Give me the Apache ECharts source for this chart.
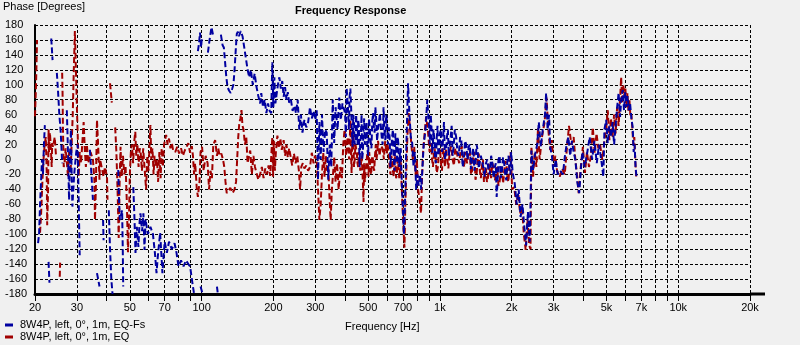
<!DOCTYPE html>
<html><head><meta charset="utf-8">
<script src="https://cdn.jsdelivr.net/npm/echarts@6/dist/echarts.min.js"></script>
<style>html,body{margin:0;padding:0;background:#f0f0f0}#c{width:800px;height:345px}</style>
</head><body><div id="c"></div>
<script>
// Frequency grid (Hz) and labelled frequencies
const gridFreqs = [20,30,40,50,60,70,80,90,100,200,300,400,500,600,700,800,900,1000,2000,3000,4000,5000,6000,7000,8000,9000,10000,20000];
const labelFreqs = [20,30,50,70,100,200,300,500,700,1000,2000,3000,5000,7000,10000,20000];
const freqMin = 20, freqMax = 20000;
const phaseMin = -180, phaseMax = 180, phaseStep = 20;
const seriesNames = ['8W4P, left, 0°, 1m, EQ-Fs', '8W4P, left, 0°, 1m, EQ'];

// [frequency Hz, phase deg]; null = break (phase wrap)
const eqPoints = [
[20.0,58],[20.2,100],[20.4,160],null,
[21.0,-98],[21.2,-75],[21.5,-27],[21.8,9],[22.0,22],[22.2,30],[22.4,-18],[22.5,-88],[22.7,-40],[22.8,40],[22.9,10],[23.1,36],[23.3,17],[23.5,-10],[23.6,22],[23.8,17],[24.2,30],[24.5,5],null,
[25.4,-157],[25.5,-138],null,
[26.0,116],[26.1,90],[26.2,40],[26.4,-10],[26.6,-5],[26.9,15],[27.2,17],[27.5,-23],[27.8,10],[28.2,-18],[28.5,-20],[28.8,60],[29.1,120],[29.4,172],[29.7,120],[30.0,66],[30.3,20],[30.5,-23],[30.8,10],[31.2,-5],[31.7,-5],[32.0,50],[32.4,10],[32.7,-10],[33.0,20],[33.5,-5],[34.2,10],[35.0,0],[35.5,-27],[35.7,-81],[36.0,-40],[36.4,53],[36.8,20],[37.3,-27],[37.5,0],[38.2,0],[38.8,-23],[39.3,-10],[40.1,-23],[40.3,-54],null,
[41.3,102],[42.0,76],null,
[43.4,43],[43.9,10],[44.4,-40],[44.9,-105],[45.3,-30],[45.7,17],[46.2,-23],[46.8,5],[47.4,-20],[48.0,-10],[48.6,-60],[49.1,-124],[49.5,-90],[50.0,-20],[50.5,10],[51.0,20],[51.6,-5],[52.2,25],[52.7,37],[53.2,5],[53.8,20],[54.4,-10],[55.0,15],[55.5,10],[56.2,-15],[56.9,15],[57.6,-10],[58.5,-40],[59.2,5],[59.9,-15],[60.5,20],[61.0,46],[61.5,0],[62.2,15],[62.9,-20],[63.5,5],[64.3,-10],[65.0,0],[65.7,-30],[66.5,10],[67.3,-25],[68.0,15],[68.8,-10],[69.6,20],[71.0,33],[72.0,20],[73.0,28],[74.0,15],[75.0,22],[76.0,12],[77.5,10],[79.0,17],[80.5,8],[82.0,15],[83.5,5],[85.0,12],[86.8,18],[88.0,22],[89.5,9],[91.0,18],[92.0,5],[93.0,-20],[94.0,-5],[95.5,-40],[96.5,-50],[98.0,-30],[99.0,10],[100.5,17],[102.0,-15],[104.0,5],[106.0,-5],[107.5,-40],[109.0,-15],[110.5,-25],[112.0,20],[114.0,26],[116.0,5],[117.5,15],[119.0,5],[121.0,8],[123.0,0],[124.5,-10],[126.0,-30],[127.5,-45],[129.5,-42],[132.0,-38],[135.0,-45],[137.5,-40],[139.5,-30],[141.0,0],[142.5,30],[144.0,49],[145.5,55],[147.0,66],[148.5,45],[150.0,40],[152.0,20],[154.0,30],[156.0,-5],[158.0,5],[160.0,12],[162.5,-20],[165.0,5],[167.5,-10],[170.0,-18],[173.0,-27],[176.0,-20],[179.0,-10],[182.0,-25],[185.0,-12],[188.0,-20],[191.0,-8],[194.0,-22],[197.0,-20],[198.0,30],[199.5,-23],[201.0,25],[203.0,-15],[205.0,10],[208.0,32],[211.0,15],[214.0,28],[217.0,13],[221.0,26],[224.0,5],[227.0,20],[230.0,3],[233.0,15],[236.0,5],[240.0,-8],[244.0,8],[248.0,-5],[252.0,5],[256.0,-15],[259.0,-40],[262.0,-10],[266.0,-5],[270.0,-12],[275.0,-8],[280.0,-15],[285.0,-10],[290.0,9],[295.0,-5],[299.0,5],[304.0,-1],[308.0,-40],[312.0,-81],[316.0,-60],[320.0,-20],[324.0,9],[328.0,-23],[332.0,5],[336.0,-15],[340.0,-10],[344.0,-50],[348.0,-81],[352.0,-40],[356.0,-20],[360.0,3],[365.0,-30],[370.0,-5],[376.0,-40],[382.0,-10],[388.0,-25],
[393,20],[398,40],[404,5],[410,30],[416,0],[421,53],[423.5,10],[426,-18],[428.5,20],[431,40],[433.5,30],[436,-10],[439,0],[442,20],[445,15],[448,9],[451,-5],[454,-10],[457,10],[460,5],[463,-15],[466,-8],[469,5],[472,-10],[475,-30],[478,-57],[481,-5],[484,-30],[487,-20],[490,-10],[493,0],[496,9],[499,-10],[502,-23],[505,10],[508,0],[511,-15],[515,-20],[518,0],[522,5],[526,-10],[530,-15],[534,5],[538,20],[542,0],[546,10],[550,25],[554,26],[558,5],[562,12],[566,18],[570,20],[574,15],[578,9],[582,0],[586,18],[590,25],[594,12],[598,8],[602,20],[606,15],[610,5],[615,-10],[620,-20],[625,5],[630,0],[635,-15],[640,-23],[645,10],[650,-5],[655,-25],[660,-20],[665,0],[670,-10],[675,-25],[680,-15],[685,0],
[690,-30],[700,-80],[710,-118],[716,-60],[722,-20],[730,30],[740,62],[750,40],[760,17],[770,0],[780,17],[790,-20],[800,0],[810,-40],[822,-55],[833,-72],[842,-20],[850,10],[860,30],[875,57],[890,40],
[905,10],[920,22],[927,0],[935,-10],[942,5],[950,15],[960,0],[970,-18],[980,-10],[990,10],[1000,15],[1010,-5],[1020,-15],[1030,15],[1040,5],[1050,-10],[1060,15],[1070,5],[1085,-12],[1100,12],[1115,18],[1130,0],[1145,-8],[1160,15],[1175,10],[1190,2],[1205,-5],[1220,12],[1235,18],[1250,0],[1265,-10],[1280,10],[1300,-5],[1320,9],[1335,12],[1350,-20],[1365,-15],[1380,5],[1395,10],[1410,-27],[1425,-20],[1440,0],[1455,8],[1470,-15],[1485,-25],[1500,-10],[1515,0],[1530,-30],[1545,-20],[1560,-12],[1575,-30],[1590,-25],[1605,-5],[1620,-15],[1640,-25],[1660,-5],[1680,-12],[1700,-28],[1720,-20],[1740,-10],[1760,-35],[1780,-30],[1800,-15],[1820,-8],[1840,-32],[1860,-20],[1880,-2],[1900,-5],[1920,-25],[1940,-30],[1960,0],[1980,10],[2010,-40],
[2050,-37],[2090,-60],[2130,-45],[2170,-72],[2210,-63],[2250,-100],[2290,-121],[2330,-80],[2370,-115],[2400,-120],[2420,17],[2460,-23],[2500,10],[2540,-10],[2580,43],[2620,0],[2680,30],[2750,50],[2800,83],[2850,40],[2900,13],[2950,26],[3000,-10],[3050,5],[3100,-15],[3180,-23],[3260,-12],[3340,-20],[3400,10],[3480,45],[3560,20],[3640,30],[3700,0],[3760,-20],[3820,-45],[3900,-10],[3980,17],[4060,-18],[4140,10],[4220,-10],[4300,5],[4380,43],[4460,9],[4540,35],[4620,15],[4700,20],[4800,0],[4900,25],[4980,40],[5060,66],[5140,26],[5220,55],[5300,30],[5380,60],[5460,35],[5540,70],[5620,45],[5700,80],[5760,110],[5820,75],[5880,100],[5940,85],[6000,95],[6060,70],[6120,89],[6180,65],[6240,80],[6300,57],[6360,60],[6420,40],[6480,20],[6540,30],[6600,0],[6660,-23]
];

const eqFsPoints = [
[20.6,-112],[20.8,-100],[21.0,-60],[21.2,-30],[21.4,0],[21.6,-20],[21.8,20],[22.0,46],null,
[22.8,-137],[23.0,-165],null,
[23.4,162],[23.7,133],null,
[24.7,116],[25.0,90],[25.3,60],[25.6,40],[25.8,20],[26.0,-5],null,
[27.2,66],[27.4,30],[27.6,-10],[27.8,-54],[28.0,0],[28.3,40],[28.5,-20],[28.7,-63],[29.2,-20],[29.8,10],[30.2,20],[30.4,-30],[30.6,-80],[30.8,-128],null,
[34.0,13],[34.5,-20],[35.0,-54],null,
[36.4,-152],[37.3,-170],null,
[38.6,-81],[38.8,-108],null,
[40.8,-68],[41.3,-120],[41.8,-160],[42.3,-180],null,
[44.7,-14],[45.0,-50],[45.4,-81],[46.4,-68],[46.7,-120],[46.9,-170],null,
[51.7,-37],[52.3,-80],[52.8,-125],[53.5,-90],[54.3,-117],[55.0,-81],[55.4,-72],[56.3,-96],[57.0,-72],[57.6,-121],[58.2,-80],[59.5,-100],[61.0,-90],[62.5,-100],[63.7,-125],[64.7,-152],[65.5,-130],[67.0,-98],[68.5,-152],[70.0,-110],[71.5,-125],[73.0,-110],[75.0,-120],[77.0,-112],[78.5,-125],[80.0,-143],[82.0,-135],[84.0,-143],[86.0,-135],[88.0,-140],[89.5,-143],[91.0,-160],[93.0,-180],null,
[99.0,-170],[101.0,-180],null,
[116.0,-170],[117.0,-180],null,
[96.5,145],[97.5,155],[98.5,170],[99.5,150],[100.4,165],null,
[106.3,143],[108.0,160],[110.0,177],[112.0,165],null,
[120.5,167],[122.5,153],[124.0,150],[125.5,130],[127.0,110],[128.5,97],[130.5,92],[132.5,89],[134.5,95],[136.0,100],[137.5,120],[139.0,145],[140.5,168],[142.0,171],[143.5,165],[146.0,172],[148.5,165],[151.0,150],[153.5,135],[156.0,120],[158.5,110],[161.0,120],[164.0,100],[167.0,115],[170.0,97],[173.0,85],[176.0,75],[178.0,89],[181.0,70],[184.0,80],[187.0,62],[190.0,75],[193.0,65],[196.0,62],[198.0,130],[200.0,70],[202.0,110],[204.0,75],[209.0,100],[212.0,110],[215.0,95],[218.0,105],[221.0,84],[224.0,97],[227.0,80],[230.0,90],[233.0,76],[237.0,80],[241.0,65],[245.0,72],[249.0,62],[253.0,80],[257.0,40],[261.0,60],[265.0,36],[270.0,53],[275.0,43],[280.0,50],[285.0,70],[290.0,55],[295.0,65],[300.0,53],[304.0,66],[308.0,-27],[312.0,50],[316.0,0],[320.0,60],[325.0,10],[330.0,40],[335.0,36],[340.0,-27],[345.0,20],[350.0,-10],[355.0,80],[360.0,22],[365.0,70],[372.0,40],[378.0,83],[384.0,53],[390.0,75],
[400,62],[403,30],[406,96],[409,80],[412,65],[415,40],[418,85],[421,95],[424,70],[427,40],[430,17],[433,60],[436,50],[439,20],[442,25],[445,60],[448,40],[451,20],[454,53],[457,45],[460,-10],[463,25],[466,30],[469,60],[472,0],[475,10],[478,40],[481,55],[484,20],[488,30],[492,50],[496,15],[500,5],[504,55],[508,40],[512,25],[516,15],[520,50],[524,62],[528,45],[532,36],[536,70],[540,55],[545,25],[550,40],[555,50],[560,62],[565,45],[570,30],[575,20],[580,70],[585,40],[590,26],[595,60],[600,50],[605,20],[610,43],[615,30],[620,-10],[625,10],[630,30],[635,40],[640,0],[645,-15],[650,35],[655,15],[660,-5],[665,30],[670,20],[675,-10],[680,10],[685,15],
[690,-20],[698,-60],[706,-100],[712,-70],[718,-20],[726,40],[735,102],[745,60],[755,30],[765,22],[775,-10],[785,10],[795,-40],[805,-20],[815,-35],[825,-20],[835,-40],[845,-10],[855,20],[870,40],[885,80],
[900,45],[907,20],[915,60],[921,45],[928,9],[933,15],[940,40],[948,25],[955,0],[962,-5],[970,30],[977,45],[985,5],[993,15],[1000,35],[1010,40],[1020,10],[1030,25],[1040,50],[1050,0],[1060,9],[1070,30],[1080,40],[1090,5],[1100,20],[1110,30],[1120,45],[1130,5],[1140,15],[1155,40],[1170,30],[1185,10],[1200,5],[1215,30],[1230,25],[1245,-10],[1260,0],[1275,25],[1290,20],[1305,0],[1320,17],[1335,20],[1350,-13],[1365,5],[1380,15],[1395,-15],[1410,-5],[1425,20],[1440,12],[1455,-12],[1470,-10],[1485,5],[1500,3],[1520,-10],[1540,-23],[1560,-5],[1580,0],[1600,-15],[1620,-20],[1640,5],[1660,-5],[1680,-25],[1700,-10],[1715,-5],[1730,-50],[1745,-30],[1760,0],[1780,5],[1800,-25],[1820,-15],[1840,3],[1860,-5],[1880,-20],[1900,-28],[1920,0],[1940,5],[1960,-15],[1975,-20],[1990,10],[2020,-18],
[2060,-32],[2100,-60],[2140,-40],[2180,-77],[2220,-60],[2260,-90],[2300,-115],[2340,-70],[2380,-110],[2400,-60],[2420,12],[2460,-14],[2500,5],[2560,20],[2600,50],[2650,17],[2700,40],[2760,60],[2790,89],[2830,40],[2870,60],[2900,17],[2950,5],[3000,-20],[3060,0],[3120,-20],[3200,-15],[3280,-20],[3340,3],[3400,20],[3460,30],[3520,5],[3580,25],[3640,10],[3700,0],[3770,-30],[3840,-45],[3900,-15],[3960,10],[4050,-10],[4130,5],[4250,30],[4350,0],[4450,25],[4550,-5],[4650,20],[4750,0],[4850,-23],[4900,40],[4980,53],[5060,22],[5140,45],[5220,30],[5300,50],[5380,20],[5460,45],[5540,70],[5620,89],[5700,57],[5780,85],[5850,93],[5920,66],[5990,90],[6060,70],[6130,85],[6200,66],[6280,75],[6360,55],[6440,43],[6500,10],[6560,20],[6620,-10],[6680,-23]
];

const colors = { eqFs: '#0000a0', eq: '#a00000' };
const FONT = 'Liberation Sans, Arial, sans-serif';

function toData(pts) {
  const out = [];
  let lastX = Math.log10(freqMin);
  for (const p of pts) {
    if (p === null) { out.push([lastX, '-']); }
    else { lastX = Math.log10(p[0]); out.push([lastX, p[1]]); }
  }
  return out;
}
function fmtFreq(v) {
  const f = Math.round(Math.pow(10, v));
  return f >= 1000 ? (f / 1000) + 'k' : String(f);
}

const chart = echarts.init(document.getElementById('c'), null, { renderer: 'canvas' });
const lineBase = { type: 'line', showSymbol: false, symbol: 'none', animation: false, connectNulls: false, clip: true };

chart.setOption({
  backgroundColor: '#f0f0f0',
  animation: false,
  textStyle: { fontFamily: FONT },
  title: [
    { text: 'Frequency Response', left: 295, top: 5, padding: 0, textStyle: { fontFamily: FONT, fontSize: 11, fontWeight: 'bold', color: '#000' } },
    { text: 'Phase [Degrees]', left: 3, top: 1, padding: 0, textStyle: { fontFamily: FONT, fontSize: 11, fontWeight: 'normal', color: '#000' } },
    { text: 'Frequency [Hz]', left: 345, top: 321, padding: 0, textStyle: { fontFamily: FONT, fontSize: 11, fontWeight: 'normal', color: '#000' } }
  ],
  legend: {
    data: seriesNames, orient: 'vertical', left: 5, top: 319, padding: 0, itemGap: 0,
    itemWidth: 8, itemHeight: 3, icon: 'rect',
    textStyle: { fontFamily: FONT, fontSize: 11, color: '#000', lineHeight: 12, padding: [0, 0, 0, 2] }
  },
  grid: { left: 35, top: 25, right: 50, bottom: 51, containLabel: false },
  xAxis: {
    type: 'value', min: Math.log10(freqMin), max: Math.log10(freqMax),
    axisLine: { show: true, onZero: false, lineStyle: { color: '#000', width: 3 } },
    axisTick: { show: true, inside: false, length: 7, customValues: gridFreqs.map(f => Math.log10(f)), lineStyle: { color: '#000', width: 1 } },
    axisLabel: { customValues: labelFreqs.map(f => Math.log10(f)), formatter: fmtFreq, margin: 8, color: '#000', fontFamily: FONT, fontSize: 11, showMinLabel: true, showMaxLabel: true },
    splitLine: { show: true, lineStyle: { color: '#000', width: 1, type: [3, 2] } }
  },
  yAxis: {
    type: 'value', min: phaseMin, max: phaseMax, interval: phaseStep,
    axisLine: { show: true, onZero: false, lineStyle: { color: '#000', width: 2 } },
    axisTick: { show: false },
    axisLabel: { align: 'left', margin: 30, color: '#000', fontFamily: FONT, fontSize: 11 },
    splitLine: { show: true, lineStyle: { color: '#000', width: 1, type: [3, 2] } }
  },
  series: [
    Object.assign({}, lineBase, { name: seriesNames[1], data: toData(eqPoints), color: colors.eq, lineStyle: { color: colors.eq, width: 2, type: [6, 3] } }),
    Object.assign({}, lineBase, { name: seriesNames[0], data: toData(eqFsPoints), color: colors.eqFs, lineStyle: { color: colors.eqFs, width: 2, type: [6, 3] } })
  ]
});

// extend the frequency axis line a little past the last grid line, as in the original
const p = chart.convertToPixel({ gridIndex: 0 }, [Math.log10(freqMax), phaseMin]);
chart.setOption({ graphic: [{ type: 'line', silent: true, shape: { x1: p[0], y1: p[1], x2: p[0] + 15, y2: p[1] }, style: { stroke: '#000', lineWidth: 3 } }] });
</script>
</body></html>
